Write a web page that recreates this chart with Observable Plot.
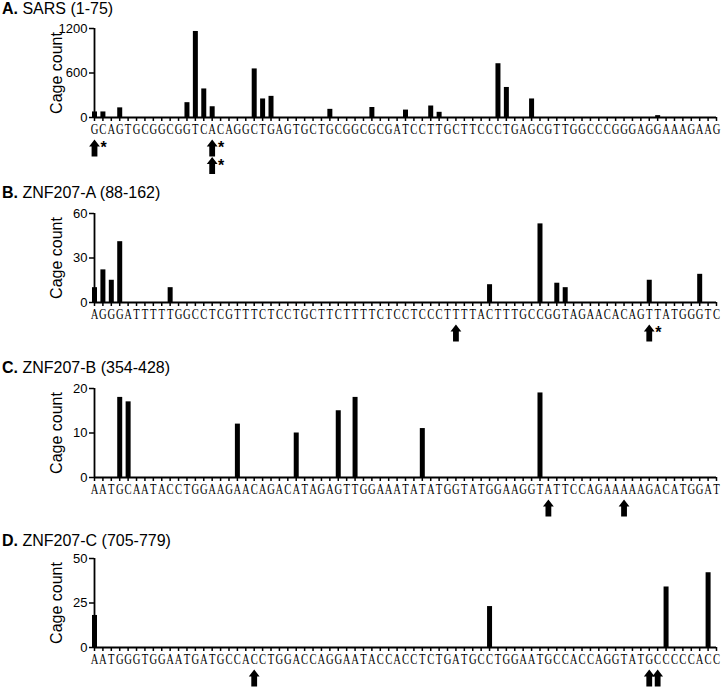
<!DOCTYPE html>
<html><head><meta charset="utf-8">
<script src="https://cdn.jsdelivr.net/npm/d3@7"></script>
<script src="https://cdn.jsdelivr.net/npm/@observablehq/plot@0.6"></script>
<style>
body{margin:0;background:#fff;}
#chart{position:relative;width:723px;height:688px;background:#fff;font-family:"Liberation Sans",Arial,Helvetica,sans-serif;color:#000;}
.title{position:absolute;left:2px;font-size:16px;line-height:16px;white-space:nowrap;z-index:2;}
.panel{position:absolute;left:0;z-index:1;}
</style></head><body><div id="chart"></div>
<script>
// ---- data ----
const positions = d3.range(1, 76);
const yLabel = "Cage count";

const titleA = "SARS (1-75)";
const seqA = "GCAGTGCGGCGGTCACAGGCTGAGTGCTGCGGCGCGATCCTTGCTTCCCTGAGCGTTGGCCCGGGAGGAAAGAAG";
const barPosA = [1, 2, 4, 12, 13, 14, 15, 20, 21, 22, 29, 34, 38, 41, 42, 49, 50, 53, 68];
const barValA = [75, 75, 130, 200, 1160, 385, 145, 655, 250, 285, 110, 135, 100, 155, 70, 725, 405, 250, 25];
const yTicksA = [0, 600, 1200];
const arrowPosA = [1, 15, 15];
const arrowRowA = [0, 0, 1];
const arrowStarA = [1, 1, 1];

const titleB = "ZNF207-A (88-162)";
const seqB = "AGGGATTTTTGGCCTCGTTTCTCCTGCTTCTTTTCTCCTCCCTTTTACTTTGCCGGTAGAACACAGTTATGGGTC";
const barPosB = [1, 2, 3, 4, 10, 48, 54, 56, 57, 67, 73];
const barValB = [10, 22, 15, 41, 10, 12, 53, 13, 10, 15, 19];
const yTicksB = [0, 30, 60];
const arrowPosB = [44, 67];
const arrowRowB = [0, 0];
const arrowStarB = [0, 1];

const titleC = "ZNF207-B (354-428)";
const seqC = "AATGCAATACCTGGAAGAACAGACATAGAGTTGGAAATATATGGTATGGAAGGTATTCCAGAAAAAGACATGGAT";
const barPosC = [4, 5, 18, 25, 30, 32, 40, 54];
const barValC = [18, 17, 12, 10, 15, 18, 11, 19];
const yTicksC = [0, 10, 20];
const arrowPosC = [55, 64];
const arrowRowC = [0, 0];
const arrowStarC = [0, 0];

const titleD = "ZNF207-C (705-779)";
const seqD = "AATGGGTGGAATGATGCCACCTGGACCAGGAATACCACCTCTGATGCCTGGAATGCCACCAGGTATGCCCCCACC";
const barPosD = [1, 48, 69, 74];
const barValD = [18, 23, 34, 42];
const yTicksD = [0, 25, 50];
const arrowPosD = [20, 67, 68];
const arrowRowD = [0, 0, 0];
const arrowStarD = [0, 0, 0];

// ---- layout ----
const panels = [
  {letter: "A.", title: titleA, seq: seqA, pos: barPosA, val: barValA, ticks: yTicksA, aPos: arrowPosA, aRow: arrowRowA, aStar: arrowStarA, frameTop: 28.3, titleBase: 14.5, mb: 62},
  {letter: "B.", title: titleB, seq: seqB, pos: barPosB, val: barValB, ticks: yTicksB, aPos: arrowPosB, aRow: arrowRowB, aStar: arrowStarB, frameTop: 213.3, titleBase: 198, mb: 42},
  {letter: "C.", title: titleC, seq: seqC, pos: barPosC, val: barValC, ticks: yTicksC, aPos: arrowPosC, aRow: arrowRowC, aStar: arrowStarC, frameTop: 388.3, titleBase: 373, mb: 42},
  {letter: "D.", title: titleD, seq: seqD, pos: barPosD, val: barValD, ticks: yTicksD, aPos: arrowPosD, aRow: arrowRowD, aStar: arrowStarD, frameTop: 558.3, titleBase: 546.5, mb: 42}
];

const arrowSymbol = {
  draw(ctx, size) {
    const s = Math.sqrt(size / Math.PI) / 8.5;
    const pts = [[0, -8.5], [5.4, -1.6], [2.9, -1.6], [2.9, 8.5], [-2.9, 8.5], [-2.9, -1.6], [-5.4, -1.6]];
    ctx.moveTo(pts[0][0] * s, pts[0][1] * s);
    for (let i = 1; i < pts.length; ++i) ctx.lineTo(pts[i][0] * s, pts[i][1] * s);
    ctx.closePath();
  }
};

const chart = document.getElementById("chart");
const MT = 12, FH = 89, ROWSTEP = 17.5, ARROW_DY = 30.5, STAR_DY = 35.5, LETTER_SCALE = 0.76;

for (const p of panels) {
  const t = document.createElement("div");
  t.className = "title";
  t.style.top = (p.titleBase - 13.5) + "px";
  t.innerHTML = "<b>" + p.letter + "</b> " + p.title;
  chart.appendChild(t);

  const bars = p.pos.map((x, i) => ({pos: x, val: p.val[i]}));
  const arrows = p.aPos.map((x, i) => ({pos: x, row: p.aRow[i], star: p.aStar[i]}));
  const ymax = p.ticks[p.ticks.length - 1];

  const svg = Plot.plot({
    width: 723,
    height: MT + FH + p.mb,
    marginLeft: 94,
    marginRight: 7,
    marginTop: MT,
    marginBottom: p.mb,
    style: {fontFamily: "'Liberation Sans', Arial, sans-serif", color: "#000", background: "transparent", overflow: "visible"},
    x: {domain: [1, 75]},
    y: {domain: [0, ymax]},
    marks: [
      Plot.ruleX(bars, {x: "pos", y1: 0, y2: "val", stroke: "#000", strokeWidth: 5}),
      Plot.axisX({ticks: positions, tickFormat: d => p.seq[d - 1], tickSize: 4, tickPadding: 2.5, fontSize: 14, fontFamily: "'Liberation Serif', 'DejaVu Serif', serif", strokeWidth: 1.5, label: null}),
      Plot.ruleY([0], {stroke: "#000", strokeWidth: 1.8}),
      Plot.axisY({ticks: p.ticks, tickFormat: d => String(d), tickSize: 5, tickPadding: 2, fontSize: 13, strokeWidth: 1.5, label: null}),
      Plot.ruleX([1], {stroke: "#000", strokeWidth: 1.8}),
      Plot.text([yLabel], {frameAnchor: "left", textAnchor: "middle", lineAnchor: "middle", rotate: -90, dx: -38, fontSize: 16}),
      Plot.dot(arrows.filter(d => d.row === 0), {x: "pos", frameAnchor: "bottom", dy: ARROW_DY, r: 8.5, symbol: arrowSymbol, fill: "#000", stroke: "none"}),
      Plot.dot(arrows.filter(d => d.row === 1), {x: "pos", frameAnchor: "bottom", dy: ARROW_DY + ROWSTEP, r: 8.5, symbol: arrowSymbol, fill: "#000", stroke: "none"}),
      Plot.text(arrows.filter(d => d.row === 0 && d.star), {x: "pos", text: () => "*", frameAnchor: "bottom", dx: 9, dy: STAR_DY, fontSize: 16, fontWeight: "bold"}),
      Plot.text(arrows.filter(d => d.row === 1 && d.star), {x: "pos", text: () => "*", frameAnchor: "bottom", dx: 9, dy: STAR_DY + ROWSTEP, fontSize: 16, fontWeight: "bold"})
    ]
  });
  svg.classList.add("panel");
  svg.style.top = (p.frameTop - MT) + "px";
  // narrow the serif letters horizontally to a Courier-like width
  d3.select(svg).selectAll('g[aria-label="x-axis tick label"] text').each(function() {
    const el = d3.select(this);
    const tr = el.attr("transform") || "";
    const x = +(el.attr("x") || 0);
    el.attr("transform", `${tr} translate(${x},0) scale(${LETTER_SCALE},1) translate(${-x},0)`);
  });
  chart.appendChild(svg);
}
</script>
</body></html>
